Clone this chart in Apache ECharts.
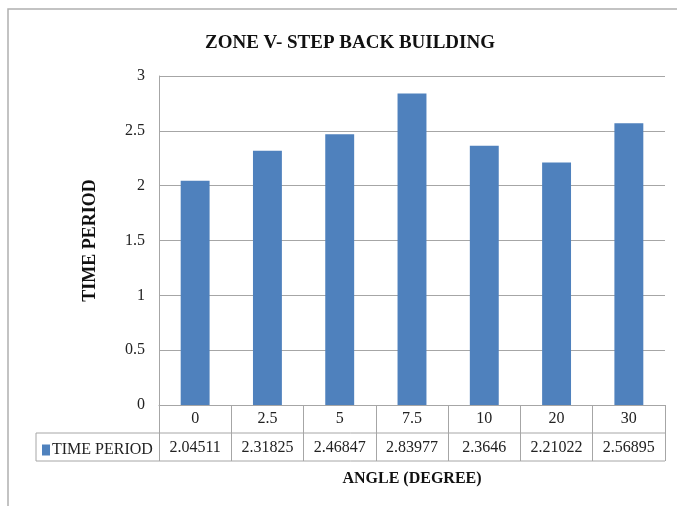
<!DOCTYPE html>
<html>
<head>
<meta charset="utf-8">
<script src="https://cdn.jsdelivr.net/npm/echarts@6/dist/echarts.min.js"></script>
<style>
  html, body { margin: 0; padding: 0; background: #fff; }
  #chart { width: 677px; height: 506px; }
</style>
</head>
<body>
<div id="chart"></div>
<script>
var angles = ['0', '2.5', '5', '7.5', '10', '20', '30'];
var timePeriod = [2.04511, 2.31825, 2.46847, 2.83977, 2.3646, 2.21022, 2.56895];
var yTicks = { min: 0, max: 3, interval: 0.5 };

var serif = '"Liberation Serif", "Times New Roman", serif';
var gridL = 159, gridR = 12, gridT = 76, gridB = 101;
var zeroY = 506 - gridB;   // 405
var rowH = 28;
var lineCol = '#a6a6a6';

var chart = echarts.init(document.getElementById('chart'));
var option = {
  backgroundColor: '#fff',
  animation: false,
  title: {
    text: 'ZONE V- STEP BACK BUILDING',
    left: 345,
    textAlign: 'center',
    top: 29,
    textStyle: { fontFamily: serif, fontWeight: 'bold', fontSize: 19, color: '#111' }
  },
  legend: {
    left: 37,
    top: zeroY + rowH + 4,
    itemWidth: 8,
    itemHeight: 11,
    icon: 'rect',
    textStyle: { fontFamily: serif, fontSize: 16, color: '#222', padding: [0, 0, 0, -3] },
    data: ['TIME PERIOD']
  },
  grid: { left: gridL, right: gridR, top: gridT, bottom: gridB },
  xAxis: [{
    type: 'category',
    data: angles,
    axisLine: { lineStyle: { color: lineCol } },
    axisTick: { show: true, length: rowH * 2, lineStyle: { color: lineCol } },
    axisLabel: { margin: 6, fontFamily: serif, fontSize: 16, color: '#222' }
  }, {
    type: 'category',
    position: 'bottom',
    offset: rowH,
    data: timePeriod.map(function (v) { return String(v); }),
    axisLine: { show: false },
    axisTick: { show: false },
    axisLabel: { margin: 7, fontFamily: serif, fontSize: 16, color: '#222' },
    name: 'ANGLE (DEGREE)',
    nameLocation: 'middle',
    nameGap: 38,
    nameTextStyle: { fontFamily: serif, fontWeight: 'bold', fontSize: 16, color: '#111' }
  }],
  yAxis: {
    type: 'value',
    min: yTicks.min,
    max: yTicks.max,
    interval: yTicks.interval,
    axisLine: { show: true, lineStyle: { color: lineCol } },
    axisTick: { show: false },
    splitLine: { lineStyle: { color: lineCol, width: 1 } },
    axisLabel: { margin: 14, fontFamily: serif, fontSize: 16, color: '#222' },
    name: 'TIME PERIOD',
    nameLocation: 'middle',
    nameGap: 60,
    nameTextStyle: { fontFamily: serif, fontWeight: 'bold', fontSize: 18, color: '#111' }
  },
  series: [{
    name: 'TIME PERIOD',
    type: 'bar',
    data: timePeriod,
    barWidth: '40%',
    itemStyle: { color: '#4f81bd' }
  }],
  graphic: [
    // outer frame
    { type: 'polyline', silent: true, shape: { points: [[8, 506], [8, 9], [677, 9]] },
      style: { stroke: '#b0b0b0', lineWidth: 1.5, fill: null } },
    // data table horizontals and legend cell
    { type: 'line', silent: true, shape: { x1: 36, y1: zeroY + rowH, x2: 677 - gridR, y2: zeroY + rowH },
      style: { stroke: lineCol, lineWidth: 1 } },
    { type: 'line', silent: true, shape: { x1: 36, y1: zeroY + rowH * 2, x2: 677 - gridR, y2: zeroY + rowH * 2 },
      style: { stroke: lineCol, lineWidth: 1 } },
    { type: 'line', silent: true, shape: { x1: 36, y1: zeroY + rowH, x2: 36, y2: zeroY + rowH * 2 },
      style: { stroke: lineCol, lineWidth: 1 } }
  ]
};
chart.setOption(option);
</script>
</body>
</html>
